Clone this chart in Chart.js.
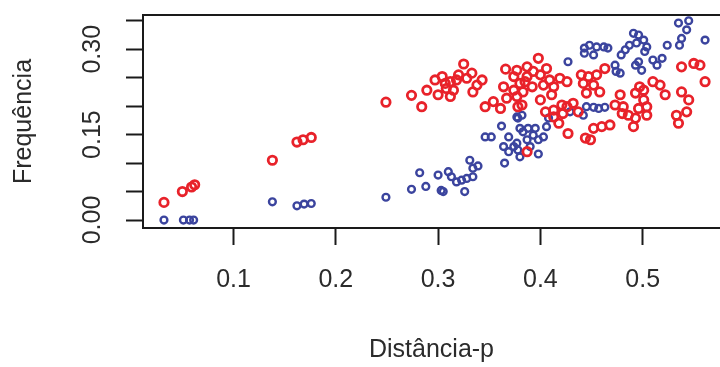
<!DOCTYPE html>
<html>
<head>
<meta charset="utf-8">
<script src="https://cdn.jsdelivr.net/npm/chart.js@4.4.0/dist/chart.umd.min.js"></script>
<style>
    body { margin: 0; background: #fff; }
    #wrap { width: 720px; height: 367px; }
</style>
</head>
<body>
<div id="wrap"><canvas id="distChart"></canvas></div>
<script>
// valori (distanza-p, frequenza)
const redDist = [0.032, 0.050, 0.059, 0.062, 0.138, 0.162, 0.168, 0.176, 0.249, 0.274,
    0.284, 0.289, 0.297, 0.300, 0.304, 0.307, 0.308, 0.312, 0.312, 0.315,
    0.318, 0.320, 0.325, 0.328, 0.333, 0.334, 0.338, 0.343, 0.346, 0.354,
    0.361, 0.364, 0.366, 0.367, 0.374, 0.377, 0.378, 0.380, 0.383, 0.387,
    0.374, 0.377, 0.398, 0.387, 0.393, 0.400, 0.406, 0.409, 0.385, 0.392,
    0.403, 0.413, 0.419, 0.426, 0.440, 0.447, 0.455, 0.463, 0.442, 0.452,
    0.458, 0.445, 0.411, 0.400, 0.421, 0.432, 0.437, 0.413, 0.418, 0.405,
    0.427, 0.444, 0.452, 0.460, 0.468, 0.449, 0.382, 0.422, 0.426, 0.413,
    0.387, 0.478, 0.473, 0.480, 0.493, 0.497, 0.501, 0.496, 0.504, 0.493,
    0.486, 0.491, 0.510, 0.517, 0.522, 0.533, 0.543, 0.538, 0.545, 0.535,
    0.538, 0.550, 0.556, 0.561, 0.481, 0.504, 0.501];
const redFreq = [0.031, 0.050, 0.058, 0.062, 0.105, 0.137, 0.141, 0.145, 0.207, 0.219,
    0.199, 0.228, 0.246, 0.220, 0.252, 0.240, 0.231, 0.243, 0.217, 0.228,
    0.246, 0.255, 0.274, 0.249, 0.258, 0.225, 0.237, 0.246, 0.199, 0.208,
    0.196, 0.234, 0.265, 0.214, 0.252, 0.263, 0.199, 0.240, 0.225, 0.252,
    0.228, 0.217, 0.284, 0.269, 0.261, 0.255, 0.266, 0.246, 0.243, 0.234,
    0.237, 0.234, 0.249, 0.243, 0.255, 0.252, 0.255, 0.266, 0.240, 0.237,
    0.225, 0.223, 0.220, 0.211, 0.202, 0.205, 0.190, 0.181, 0.170, 0.190,
    0.152, 0.144, 0.161, 0.164, 0.167, 0.141, 0.202, 0.187, 0.199, 0.193,
    0.120, 0.220, 0.202, 0.187, 0.223, 0.234, 0.211, 0.196, 0.184, 0.179,
    0.184, 0.164, 0.243, 0.237, 0.220, 0.184, 0.190, 0.225, 0.211, 0.170,
    0.269, 0.275, 0.272, 0.243, 0.199, 0.199, 0.228];

const blueDist = [0.032, 0.051, 0.057, 0.061, 0.138, 0.162, 0.169, 0.176, 0.249, 0.274,
    0.282, 0.288, 0.300, 0.303, 0.305, 0.310, 0.313, 0.318, 0.323, 0.326,
    0.331, 0.334, 0.339, 0.334, 0.328, 0.346, 0.352, 0.362, 0.365, 0.364,
    0.369, 0.377, 0.380, 0.374, 0.378, 0.383, 0.387, 0.388, 0.395, 0.398,
    0.403, 0.406, 0.380, 0.398, 0.369, 0.408, 0.377, 0.390, 0.378, 0.393,
    0.382, 0.445, 0.452, 0.457, 0.463, 0.442, 0.429, 0.427, 0.443, 0.448,
    0.455, 0.462, 0.466, 0.443, 0.452, 0.473, 0.474, 0.478, 0.479, 0.483,
    0.487, 0.491, 0.496, 0.501, 0.504, 0.502, 0.496, 0.499, 0.493, 0.510,
    0.514, 0.519, 0.524, 0.535, 0.545, 0.543, 0.538, 0.536, 0.561, 0.494];
const blueFreq = [0.000, 0.000, 0.000, 0.000, 0.032, 0.025, 0.028, 0.029, 0.040, 0.054,
    0.083, 0.059, 0.079, 0.052, 0.050, 0.085, 0.076, 0.067, 0.070, 0.050,
    0.105, 0.091, 0.095, 0.076, 0.073, 0.146, 0.146, 0.165, 0.100, 0.129,
    0.146, 0.181, 0.161, 0.129, 0.123, 0.155, 0.141, 0.161, 0.161, 0.141,
    0.146, 0.164, 0.111, 0.116, 0.120, 0.179, 0.135, 0.129, 0.179, 0.149,
    0.184, 0.199, 0.198, 0.196, 0.198, 0.184, 0.190, 0.278, 0.302, 0.307,
    0.304, 0.304, 0.302, 0.293, 0.290, 0.272, 0.261, 0.258, 0.290, 0.299,
    0.307, 0.328, 0.325, 0.316, 0.304, 0.296, 0.278, 0.263, 0.272, 0.281,
    0.272, 0.284, 0.307, 0.346, 0.350, 0.334, 0.319, 0.307, 0.316, 0.311];

const xTicks = [0.1, 0.2, 0.3, 0.4, 0.5];
const yTicks = [0, 0.05, 0.10, 0.15, 0.20, 0.25, 0.30, 0.35];
const yLabelled = [0, 0.15, 0.30];

function toPoints(xs, ys) {
    return xs.map((x, i) => ({ x: x, y: ys[i] }));
}

// cornice su tre lati (il lato destro è tagliato nell'originale)
const framePlugin = {
    id: "frame",
    afterDatasetsDraw(chart) {
        const a = chart.chartArea;
        const ctx = chart.ctx;
        ctx.save();
        ctx.strokeStyle = "#1a1a1a";
        ctx.lineWidth = 2;
        ctx.beginPath();
        ctx.moveTo(a.right + 2, a.top);
        ctx.lineTo(a.left, a.top);
        ctx.lineTo(a.left, a.bottom);
        ctx.lineTo(a.right + 2, a.bottom);
        ctx.stroke();
        ctx.restore();
    }
};

const font = "'Liberation Sans', Arial, sans-serif";
const textColor = "#2b2b2b";

new Chart(document.getElementById("distChart"), {
    type: "scatter",
    data: {
        datasets: [{
            label: "rosso",
            data: toPoints(redDist, redFreq),
            borderColor: "#e8222a",
            backgroundColor: "rgba(0,0,0,0)",
            borderWidth: 2.8,
            pointRadius: 4.2
        }, {
            label: "blu",
            data: toPoints(blueDist, blueFreq),
            borderColor: "#3b449e",
            backgroundColor: "rgba(0,0,0,0)",
            borderWidth: 2.4,
            pointRadius: 3.4
        }]
    },
    options: {
        responsive: true,
        maintainAspectRatio: false,
        animation: false,
        layout: { autoPadding: false, padding: { top: 15, left: 0, right: 0, bottom: 0 } },
        plugins: {
            legend: { display: false },
            tooltip: { enabled: false }
        },
        scales: {
            x: {
                type: "linear",
                min: 0.0115,
                max: 0.5756,
                afterBuildTicks: s => { s.ticks = xTicks.map(v => ({ value: v })); },
                afterFit: s => {
                    s.height = 139;
                    s.paddingLeft = 0;
                    s.paddingRight = 0;
                },
                border: { display: false },
                grid: { drawOnChartArea: false, tickLength: 17, tickColor: "#1a1a1a", tickWidth: 2 },
                ticks: {
                    color: textColor,
                    font: { family: font, size: 25 },
                    padding: 20,
                    maxRotation: 0,
                    autoSkip: false,
                    callback: v => v.toFixed(1)
                },
                title: {
                    display: true,
                    text: "Distância-p",
                    color: textColor,
                    font: { family: font, size: 25 },
                    padding: { top: 0, bottom: 2 }
                }
            },
            y: {
                min: -0.014,
                max: 0.3601,
                afterBuildTicks: s => { s.ticks = yTicks.map(v => ({ value: v })); },
                afterFit: s => {
                    s.width = 143;
                    s.paddingTop = 0;
                    s.paddingBottom = 0;
                },
                border: { display: false },
                grid: { drawOnChartArea: false, tickLength: 17, tickColor: "#1a1a1a", tickWidth: 2 },
                ticks: {
                    color: textColor,
                    font: { family: font, size: 25 },
                    minRotation: 90,
                    maxRotation: 90,
                    crossAlign: "center",
                    padding: 9,
                    autoSkip: false,
                    callback: v => yLabelled.some(t => Math.abs(t - v) < 1e-6) ? v.toFixed(2) : ""
                },
                title: {
                    display: true,
                    text: "Frequência",
                    color: textColor,
                    font: { family: font, size: 25 },
                    padding: { top: 9, bottom: 0 }
                }
            }
        }
    },
    plugins: [framePlugin]
});
</script>
</body>
</html>
